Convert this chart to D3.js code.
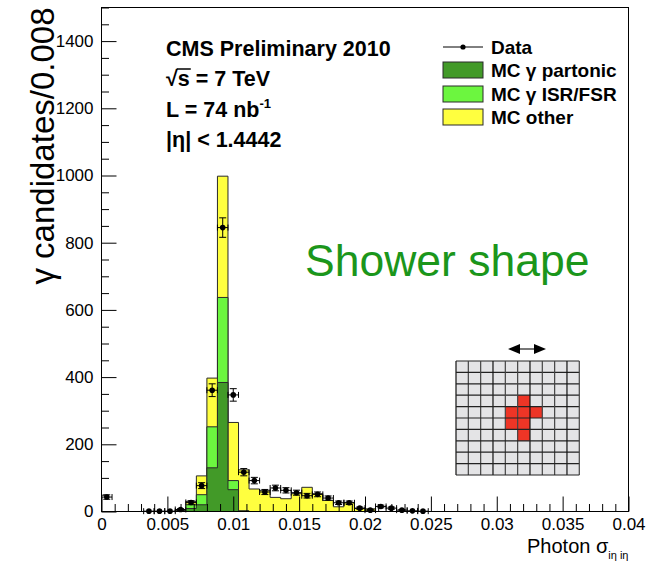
<!DOCTYPE html>
<html>
<head>
<meta charset="utf-8">
<script src="https://cdn.jsdelivr.net/npm/d3@7"></script>
<style>
  body { margin: 0; background: #fff; }
  svg { display: block; }
  text { font-family: "Liberation Sans", Arial, Helvetica, sans-serif; }
</style>
</head>
<body>
<svg id="chart" width="650" height="561"></svg>
<script>
// Photon shower-shape (sigma_ieta_ieta) distribution, 50 bins of width 0.0008
const binWidth = 0.0008;

const dataCounts = [
  43, 0, 0, 0, 1, 1, 1, 6, 27, 77,
  361, 845, 347, 117, 92, 58, 70, 63, 56, 47,
  51, 40, 26, 26, 10, 4, 15, 10, 4, 2,
  1, 0, 0, 0, 0, 0, 0, 0, 0, 0,
  0, 0, 0, 0, 0, 0, 0, 0, 0, 0
];
const dataErrors = [
  6.6, 0, 0, 0, 1, 1, 1, 2.4, 5.2, 8.8,
  19, 29, 18.6, 10.8, 9.6, 7.6, 8.4, 7.9, 7.5, 6.9,
  7.1, 6.3, 5.1, 5.1, 3.2, 2, 3.9, 3.2, 2, 1.4,
  1, 0, 0, 0, 0, 0, 0, 0, 0, 0,
  0, 0, 0, 0, 0, 0, 0, 0, 0, 0
];
const mcPartonic = [
  0, 0, 0, 0, 0, 0, 0, 2, 9, 20,
  130, 384, 65, 1, 0, 0, 0, 0, 0, 0,
  0, 0, 0, 0, 0, 0, 0, 0, 0, 0,
  0, 0, 0, 0, 0, 0, 0, 0, 0, 0,
  0, 0, 0, 0, 0, 0, 0, 0, 0, 0
];
const mcIsrFsr = [
  0, 0, 0, 0, 0, 0, 0, 1, 11, 30,
  122, 253, 27, 1, 0, 0, 0, 0, 0, 0,
  0, 0, 0, 0, 0, 0, 0, 0, 0, 0,
  0, 0, 0, 0, 0, 0, 0, 0, 0, 0,
  0, 0, 0, 0, 0, 0, 0, 0, 0, 0
];
const mcOther = [
  0, 0, 0, 0, 0, 0, 0, 2, 10, 56,
  145, 361, 173, 122, 67, 62, 42, 38, 53, 72,
  53, 33, 14, 26, 9, 8, 0, 0, 0, 0,
  0, 0, 0, 0, 0, 0, 0, 0, 0, 0,
  0, 0, 0, 0, 0, 0, 0, 0, 0, 0
];

const xMajorTicks = [0, 0.005, 0.01, 0.015, 0.02, 0.025, 0.03, 0.035, 0.04];
const xTickLabels = ["0", "0.005", "0.01", "0.015", "0.02", "0.025", "0.03", "0.035", "0.04"];
const yMajorTicks = [0, 200, 400, 600, 800, 1000, 1200, 1400];
const yTickLabels = ["0", "200", "400", "600", "800", "1000", "1200", "1400"];

const seriesKeys = ["partonic", "isrfsr", "other"];
const seriesColors = { partonic: "#429a28", isrfsr: "#6cf63f", other: "#ffff3f" };
const legendLabels = ["Data", "MC \u03b3 partonic", "MC \u03b3 ISR/FSR", "MC other"];

// Calorimeter crystal sketch: 10x10 grid with the seed cross
const crystalCells = 10;
const hotCells = [[5, 3], [4, 4], [5, 4], [6, 4], [4, 5], [5, 5], [5, 6]];

const svg = d3.select("#chart");
const frame = { left: 101.5, right: 628.5, top: 7.5, bottom: 511.5 };

const x = d3.scaleLinear().domain([0, 0.04]).range([frame.left, frame.right]);
const y = d3.scaleLinear().domain([0, 1500]).range([frame.bottom, frame.top]);

const nBins = dataCounts.length;
const rows = d3.range(nBins).map(i => ({
  lo: i * binWidth,
  partonic: mcPartonic[i],
  isrfsr: mcIsrFsr[i],
  other: mcOther[i]
}));
const stacked = d3.stack().keys(seriesKeys)(rows);

// stacked histograms: largest cumulative first, as step areas
const stepArea = d3.area()
  .x(d => x(d.x))
  .y0(y(0))
  .y1(d => y(d.v))
  .curve(d3.curveStepAfter);

const gHist = svg.append("g");
[...stacked].reverse().forEach(layer => {
  const pts = layer.map((d, i) => ({ x: rows[i].lo, v: d[1] }));
  pts.push({ x: nBins * binWidth, v: layer[nBins - 1][1] });
  gHist.append("path")
    .attr("d", stepArea(pts))
    .attr("fill", seriesColors[layer.key])
    .attr("stroke", "#2a2a2a")
    .attr("stroke-width", 1);
});

// axes (ticks pointing into the frame)
const gx = svg.append("g").attr("transform", `translate(0,${frame.bottom})`);
gx.call(d3.axisBottom(x).tickValues(d3.range(0, 41).map(k => k * 0.001).filter((v, k) => k % 5 !== 0))
  .tickSize(-7.5).tickFormat(""));
gx.call(g => g.select(".domain").remove());
const gxMajor = svg.append("g").attr("transform", `translate(0,${frame.bottom})`)
  .call(d3.axisBottom(x).tickValues(xMajorTicks).tickSize(-15).tickPadding(6)
    .tickFormat((d, i) => xTickLabels[i]));
gxMajor.select(".domain").remove();
gxMajor.selectAll("text").attr("font-size", 17).attr("fill", "#000")
  .attr("font-family", "Liberation Sans, Arial, sans-serif");

const gy = svg.append("g").attr("transform", `translate(${frame.left},0)`);
gy.call(d3.axisLeft(y).tickValues(d3.range(0, 1501, 50).filter(v => v % 200 !== 0))
  .tickSize(-7.5).tickFormat(""));
gy.call(g => g.select(".domain").remove());
const gyMajor = svg.append("g").attr("transform", `translate(${frame.left},0)`)
  .call(d3.axisLeft(y).tickValues(yMajorTicks).tickSize(-15).tickPadding(8)
    .tickFormat((d, i) => yTickLabels[i]));
gyMajor.select(".domain").remove();
gyMajor.selectAll("text").attr("font-size", 17).attr("fill", "#000")
  .attr("font-family", "Liberation Sans, Arial, sans-serif");
svg.selectAll(".tick line").attr("stroke", "#000").attr("stroke-width", 1);

// data points with error bars
const gData = svg.append("g").attr("stroke", "#000").attr("stroke-width", 1);
dataCounts.forEach((v, i) => {
  if (v <= 0) return;
  const lo = x(i * binWidth), hi = x((i + 1) * binWidth);
  const cx = x((i + 0.5) * binWidth), cy = y(v);
  const e = dataErrors[i];
  const yTop = y(v + e), yBot = y(Math.max(0, v - e));
  gData.append("line").attr("x1", lo).attr("x2", hi).attr("y1", cy).attr("y2", cy);
  gData.append("line").attr("x1", lo).attr("x2", lo).attr("y1", cy - 3).attr("y2", cy + 3);
  gData.append("line").attr("x1", hi).attr("x2", hi).attr("y1", cy - 3).attr("y2", cy + 3);
  if (yBot - yTop > 1) {
    gData.append("line").attr("x1", cx).attr("x2", cx).attr("y1", yTop).attr("y2", yBot);
    gData.append("line").attr("x1", cx - 3.5).attr("x2", cx + 3.5).attr("y1", yTop).attr("y2", yTop);
    gData.append("line").attr("x1", cx - 3.5).attr("x2", cx + 3.5).attr("y1", yBot).attr("y2", yBot);
  }
  gData.append("circle").attr("cx", cx).attr("cy", cy).attr("r", 2.8)
    .attr("fill", "#000").attr("stroke", "none");
});

// frame
svg.append("rect")
  .attr("x", frame.left).attr("y", frame.top)
  .attr("width", frame.right - frame.left).attr("height", frame.bottom - frame.top)
  .attr("fill", "none").attr("stroke", "#000").attr("stroke-width", 1);

// axis titles
svg.append("text")
  .attr("transform", `translate(54,${frame.top}) rotate(-90)`)
  .attr("text-anchor", "end")
  .attr("font-size", 33)
  .text("\u03b3 candidates/0.008");

const xt = svg.append("text")
  .attr("x", frame.right).attr("y", 553)
  .attr("text-anchor", "end")
  .attr("font-size", 20);
xt.append("tspan").text("Photon \u03c3");
xt.append("tspan").attr("font-size", 11).attr("dy", 6).text("i\u03b7 i\u03b7");

// info block
const info = svg.append("g").attr("font-weight", "bold").attr("font-size", 21.5);
info.append("text").attr("x", 166).attr("y", 56).text("CMS Preliminary 2010");
const sq = info.append("text").attr("x", 166).attr("y", 86);
sq.append("tspan").text("\u221a");
sq.append("tspan").text("s = 7 TeV");
const sqNode = sq.node();
const wRoot = sqNode.getSubStringLength(0, 1);
const wS = sqNode.getSubStringLength(1, 1);
info.append("line")
  .attr("x1", 166 + wRoot - 1).attr("x2", 166 + wRoot + wS + 1)
  .attr("y1", 86 - 17).attr("y2", 86 - 17)
  .attr("stroke", "#000").attr("stroke-width", 1.5);
const lum = info.append("text").attr("x", 166).attr("y", 117);
lum.append("tspan").text("L = 74 nb");
lum.append("tspan").attr("font-size", 13).attr("dy", -9).text("-1");
info.append("text").attr("x", 166).attr("y", 147).text("|\u03b7| < 1.4442");

// legend
const lg = svg.append("g");
const legX = 443, legW = 40, legTextX = 491;
lg.append("line").attr("x1", legX).attr("x2", legX + legW).attr("y1", 47).attr("y2", 47)
  .attr("stroke", "#000").attr("stroke-width", 1);
lg.append("circle").attr("cx", legX + legW / 2).attr("cy", 47).attr("r", 2.6).attr("fill", "#000");
const legendBoxY = [62, 86, 109];
["partonic", "isrfsr", "other"].forEach((k, i) => {
  lg.append("rect").attr("x", legX).attr("y", legendBoxY[i]).attr("width", legW).attr("height", 16)
    .attr("fill", seriesColors[k]).attr("stroke", "#2a2a2a").attr("stroke-width", 1);
});
const legendBaselines = [54, 77, 101, 124];
legendLabels.forEach((t, i) => {
  lg.append("text").attr("x", legTextX).attr("y", legendBaselines[i])
    .attr("font-weight", "bold").attr("font-size", 19).text(t);
});

// annotation
svg.append("text")
  .attr("x", 305).attr("y", 276)
  .attr("font-size", 44.5)
  .attr("fill", "#1b961b")
  .text("Shower shape");

// crystal grid sketch
const gx0 = 456, gy0 = 361, cw = 12.33, ch = 11.4;
const cg = svg.append("g");
cg.append("rect").attr("x", gx0).attr("y", gy0)
  .attr("width", cw * crystalCells).attr("height", ch * crystalCells)
  .attr("fill", "#e4e4e6");
hotCells.forEach(([c, r]) => {
  cg.append("rect").attr("x", gx0 + c * cw).attr("y", gy0 + r * ch)
    .attr("width", cw).attr("height", ch).attr("fill", "#ee3526");
});
d3.range(crystalCells + 1).forEach(k => {
  cg.append("line").attr("x1", gx0 + k * cw).attr("x2", gx0 + k * cw)
    .attr("y1", gy0).attr("y2", gy0 + ch * crystalCells)
    .attr("stroke", k % 3 === 0 ? "#111" : "#444").attr("stroke-width", 1.2);
  cg.append("line").attr("x1", gx0).attr("x2", gx0 + cw * crystalCells)
    .attr("y1", gy0 + k * ch).attr("y2", gy0 + k * ch)
    .attr("stroke", "#222").attr("stroke-width", 1.2);
});
// double-headed arrow above the grid
const ay = 349;
cg.append("line").attr("x1", 517).attr("x2", 537).attr("y1", ay).attr("y2", ay)
  .attr("stroke", "#777").attr("stroke-width", 2);
cg.append("path").attr("d", `M508,${ay} L520,${ay - 5} L520,${ay + 5} Z`).attr("fill", "#000");
cg.append("path").attr("d", `M546,${ay} L534,${ay - 5} L534,${ay + 5} Z`).attr("fill", "#000");
</script>
</body>
</html>
